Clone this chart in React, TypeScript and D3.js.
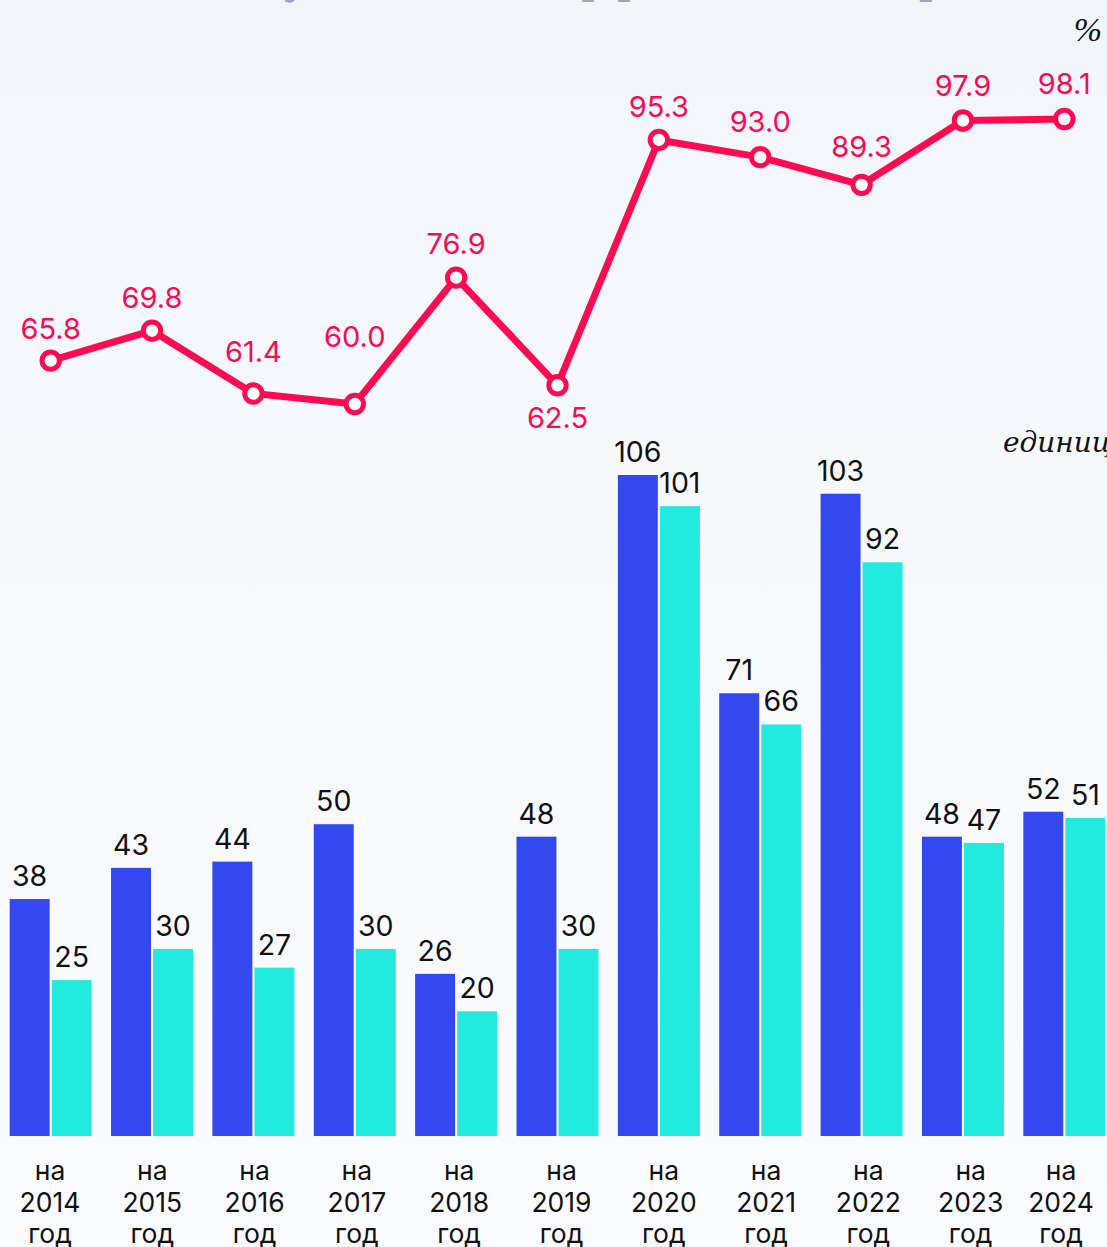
import React from "react";
import * as d3 from "d3";

const years = ["2014", "2015", "2016", "2017", "2018", "2019", "2020", "2021", "2022", "2023", "2024"];
const sharePct = [65.8, 69.8, 61.4, 60.0, 76.9, 62.5, 95.3, 93.0, 89.3, 97.9, 98.1];
const seriesA = [38, 43, 44, 50, 26, 48, 106, 71, 103, 48, 52];
const seriesB = [25, 30, 27, 30, 20, 30, 101, 66, 92, 47, 51];

// layout: vertical offset of each line label from its point (px)
const lineLabelDy = [-22, -23, -32, -57, -24, 43, -23, -25, -28, -24, -25];

const W = 1107;
const H = 1247;
const BLUE = "#3448F0";
const CYAN = "#22EADF";
const RED = "#FF0A50";
const FONT = "Inter, 'Noto Sans', sans-serif";

export default function App() {
  const x = d3.scaleBand<string>().domain(years).range([0, 1115]).padding(0);
  const cx = (y: string) => (x(y) as number) + x.bandwidth() / 2;
  const xLabel = d3.scalePoint<string>().domain(years).range([50, 1073]);
  const yBar = d3.scaleLinear().domain([0, 106]).range([1136, 475]);
  const yLine = d3.scaleLinear().domain([60, 98.1]).range([404, 119]);

  const line = d3
    .line<number>()
    .x((_, i) => cx(years[i]))
    .y((d) => yLine(d));

  return (
    <div style={{ position: "absolute", left: 0, top: 0, width: W, height: H }}>
      <svg width={W} height={H} style={{ display: "block" }}>
        <defs>
          <linearGradient id="bg" x1="0" y1="0" x2="0" y2="1">
            <stop offset="0" stopColor="#F2F6FB" />
            <stop offset="0.45" stopColor="#F7F9FD" />
            <stop offset="1" stopColor="#FAFBFE" />
          </linearGradient>
        </defs>
        <rect width={W} height={H} fill="url(#bg)" />
        <text
          x={145}
          y={-8}
          fontFamily="'DejaVu Serif', 'Liberation Serif', serif"
          fontSize={46}
          fill="#9EA4C4"
        >
          Доля успешных эффективных проектов
        </text>
        <text
          x={1102}
          y={41}
          textAnchor="end"
          fontFamily="'Liberation Serif', serif"
          fontStyle="italic"
          fontSize={34}
          fill="#111"
        >
          %
        </text>
        <text
          x={1003}
          y={452}
          fontFamily="'DejaVu Serif', 'Liberation Serif', serif"
          fontStyle="italic"
          fontSize={28}
          fill="#111"
        >
          единиц
        </text>

        {/* bars */}
        {years.map((yr, i) => {
          const c = cx(yr);
          const lx = Math.min(xLabel(yr) as number, W - 46);
          const x1 = d3.scaleBand<string>().domain(["a", "b"]).range([c - 41, c + 41]).paddingInner(0.05);
          const bw = x1.bandwidth();
          const xa = x1("a") as number;
          const xb = x1("b") as number;
          return (
            <g key={yr}>
              <rect x={xa} y={yBar(seriesA[i])} width={bw} height={yBar(0) - yBar(seriesA[i])} fill={BLUE} />
              <rect x={xb} y={yBar(seriesB[i])} width={bw} height={yBar(0) - yBar(seriesB[i])} fill={CYAN} />
              <text x={xa + bw / 2} y={yBar(seriesA[i]) - 13} textAnchor="middle" fontFamily={FONT} fontSize={28.5} fill="#111">
                {seriesA[i]}
              </text>
              <text x={xb + bw / 2} y={yBar(seriesB[i]) - 13} textAnchor="middle" fontFamily={FONT} fontSize={28.5} fill="#111">
                {seriesB[i]}
              </text>
              <text textAnchor="middle" fontFamily={FONT} fontSize={26.5} fill="#111">
                <tspan x={lx} y={1180}>на</tspan>
                <tspan x={lx} y={1212}>{yr}</tspan>
                <tspan x={lx} y={1243}>год</tspan>
              </text>
            </g>
          );
        })}

        {/* line */}
        <path d={line(sharePct) || ""} fill="none" stroke={RED} strokeWidth={7} strokeLinejoin="round" />
        {sharePct.map((v, i) => (
          <g key={i}>
            <circle cx={cx(years[i])} cy={yLine(v)} r={8.7} fill="#fff" stroke={RED} strokeWidth={5} />
            <text
              x={cx(years[i])}
              y={yLine(v) + lineLabelDy[i]}
              textAnchor="middle"
              fontFamily={FONT}
              fontSize={29}
              fill={RED}
            >
              {v.toFixed(1)}
            </text>
          </g>
        ))}
      </svg>
    </div>
  );
}
